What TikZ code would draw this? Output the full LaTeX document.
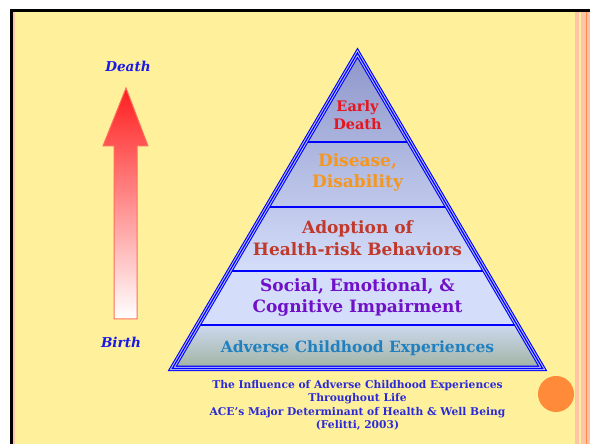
\documentclass[tikz,border=0pt]{standalone}
\usepackage{fontspec}
\setmainfont{DejaVu Serif}
\definecolor{bgyellow}{RGB}{255,241,156}
\definecolor{pinkstripe}{RGB}{255,195,168}
\definecolor{orangeline}{RGB}{255,138,80}
\definecolor{dotorange}{RGB}{255,138,58}
\definecolor{pyrblue}{RGB}{0,0,255}
\definecolor{pyrlight}{RGB}{180,188,255}
\definecolor{earlyred}{RGB}{232,20,30}
\definecolor{diseaseorange}{RGB}{245,150,30}
\definecolor{adoptred}{RGB}{192,57,43}
\definecolor{socialpurple}{RGB}{112,16,200}
\definecolor{aceblue}{RGB}{32,128,192}
\definecolor{capblue}{RGB}{42,42,216}
\definecolor{lifeblue}{RGB}{26,26,232}
\definecolor{arrowred}{RGB}{255,30,30}
\definecolor{arrowedge}{RGB}{255,110,90}
\definecolor{topband}{RGB}{140,149,200}
\definecolor{midband}{RGB}{212,221,249}
\definecolor{aceTop}{RGB}{204,216,238}
\definecolor{aceBot}{RGB}{155,174,153}
\tikzset{
  lvl/.style={font=\fontsize{17}{22}\selectfont\bfseries, align=center, inner sep=0pt},
  lifelbl/.style={font=\fontsize{13.6}{15}\selectfont\bfseries\itshape, text=lifeblue, inner sep=0pt},
  caption/.style={font=\fontsize{10.7}{13.5}\selectfont\bfseries, text=capblue, align=center, inner sep=0pt},
  bandline/.style={draw=pyrblue, line width=2pt}
}
\begin{document}
\begin{tikzpicture}[x=1pt,y=1pt]
\useasboundingbox (0,0) rectangle (590,444);
% slide background
\fill[white] (0,0) rectangle (590,444);
\fill[bgyellow] (12,0) rectangle (575,432);
\fill[pinkstripe] (12.5,0) rectangle (14.5,432);
\fill[pinkstripe] (575,0) rectangle (579,432);
\fill[bgyellow] (579,0) rectangle (581,432);
\fill[pinkstripe] (581,0) rectangle (590,432);
\fill[orangeline] (585.5,0) rectangle (586.5,432);
\fill[black] (10,432) rectangle (590,435);
\fill[black] (10,0) rectangle (12.5,435);
% pyramid corners
\coordinate (A) at (357.5,396);
\coordinate (BL) at (168,73);
\coordinate (BR) at (547,73);
\coordinate (iA) at (357.5,391);
\coordinate (iBL) at (172.4,75.5);
\coordinate (iBR) at (542.6,75.5);
\begin{scope}
  \clip (A) -- (BR) -- (BL) -- cycle;
  \shade[top color=topband, bottom color=midband] (160,396) rectangle (560,173);
  \fill[midband] (160,173) rectangle (560,119);
  \shade[top color=aceTop, bottom color=aceBot] (160,119) rectangle (560,70);
  \draw[bandline] (160,302) -- (560,302);
  \draw[bandline] (160,237) -- (560,237);
  \draw[bandline] (160,173) -- (560,173);
  \draw[bandline] (160,119) -- (560,119);
\end{scope}
\draw[pyrblue, line width=5.5pt, line join=miter] (iA) -- (iBR) -- (iBL) -- cycle;
\draw[pyrlight, line width=3.3pt, line join=miter] (iA) -- (iBR) -- (iBL) -- cycle;
\draw[pyrblue, line width=1.2pt, line join=miter] (iA) -- (iBR) -- (iBL) -- cycle;
% level labels
\node[lvl, text=earlyred, font=\fontsize{14.5}{17.5}\selectfont\bfseries] (early) at (357.5,329) {Early\\Death};
\node[lvl, text=diseaseorange, font=\fontsize{17}{21}\selectfont\bfseries] (disease) at (357.5,271.5) {Disease,\\Disability};
\node[lvl, text=adoptred] (adopt) at (357.5,206) {Adoption of\\Health-risk Behaviors};
\node[lvl, text=socialpurple, font=\fontsize{17}{21}\selectfont\bfseries] (social) at (357.5,146.5) {Social, Emotional, \&\\Cognitive Impairment};
\node[lvl, text=aceblue, font=\fontsize{15.5}{18}\selectfont\bfseries] (ace) at (357.5,96) {Adverse Childhood Experiences};
% caption
\node[caption] (cap) at (357.5,38.5) {The Influence of Adverse Childhood Experiences\\Throughout Life\\ACE’s Major Determinant of Health \& Well Being\\(Felitti, 2003)};
% life arrow
\shade[top color=arrowred, bottom color=white, draw=arrowedge, line width=1pt]
  (126,356) -- (148,298) -- (137,298) -- (137,125) -- (114,125) -- (114,298) -- (103,298) -- cycle;
\node[lifelbl] (death) at (128,378) {Death};
\node[lifelbl] (birth) at (121,102) {Birth};
% orange dot
\fill[dotorange] (556,50) circle (18);
\end{tikzpicture}
\end{document}
